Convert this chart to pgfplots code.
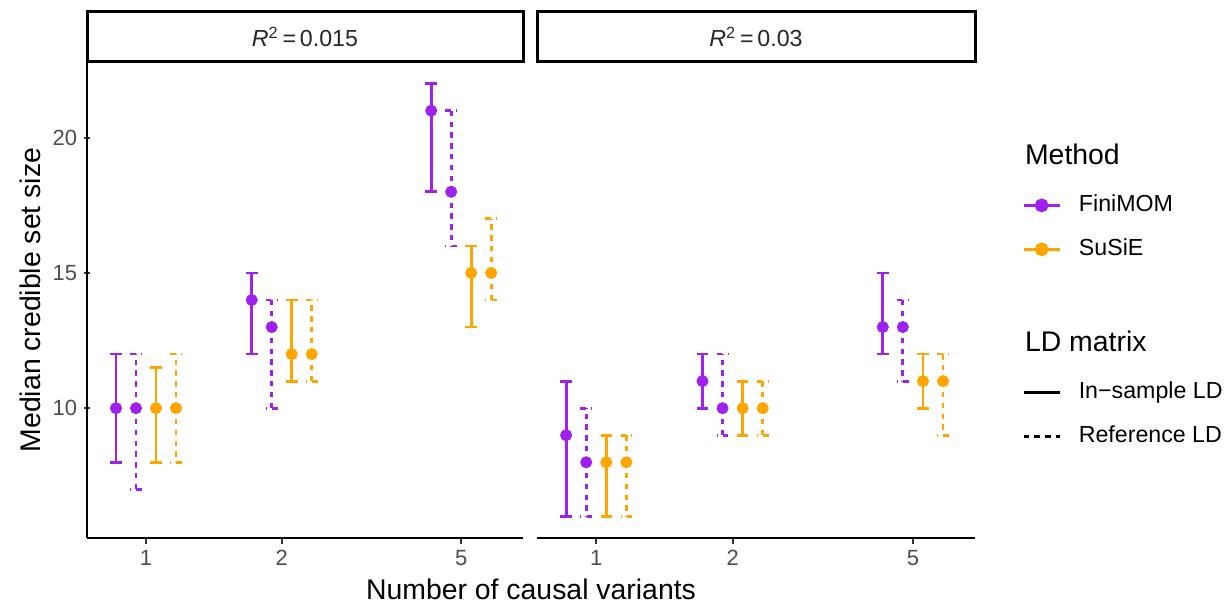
\documentclass[border=0pt]{standalone}
\usepackage{fontspec}
\setmainfont{Liberation Sans}
\usepackage{pgfplots}
\pgfplotsset{compat=1.18}
\definecolor{fin}{HTML}{A020F0}
\definecolor{sus}{HTML}{FFA500}
\definecolor{ticktext}{HTML}{4D4D4D}
\definecolor{tickline}{HTML}{333333}

\pgfplotsset{
  panel/.style={
    scale only axis, height=238pt,
    xmin=-0.1308, xmax=0.836, ymin=5.2, ymax=22.8,
    enlargelimits=false, clip=false,
    xtick={0,0.30103,0.69897}, xticklabels={1,2,5},
    axis x line=bottom,
    tick style={line width=1.1pt, tickline},
    major tick length=2.75pt, tick align=outside,
    ticklabel style={font=\fontsize{11}{13}\selectfont, text=ticktext},
    /pgf/number format/assume math mode=true,
    legend cell align=left,
    legend image code/.code={
      \draw[mark repeat=2, mark phase=2, #1]
        plot coordinates {(0pt,0pt) (9pt,0pt) (18pt,0pt)};},
  },
  ins/.style={forget plot, only marks, color=#1, mark=*, mark size=2.8pt,
    mark options={solid, fill=#1, draw=#1},
    error bars/.cd, y dir=both, y explicit,
    error bar style={line width=1.4pt, solid},
    error mark options={rotate=90, line width=1.4pt, mark size=2.9pt, solid}},
  rfs/.style={forget plot, only marks, color=#1, mark=*, mark size=2.8pt,
    mark options={solid, fill=#1, draw=#1},
    error bars/.cd, y dir=both, y explicit,
    error bar style={line width=1.4pt, dash pattern=on 2.7pt off 2.7pt},
    error mark options={rotate=90, line width=1.4pt, mark size=2.9pt,
                        dash pattern=on 2.7pt off 2.7pt}},
}

\begin{document}
\begin{tikzpicture}
\path (0,0) rectangle (614pt,302.5pt);

% R^2 = 0.015
\begin{axis}[panel, name=L, at={(43.5pt,33.5pt)}, anchor=south west,
  width=218pt, axis y line=left, ytick={10,15,20},
  axis line style={-, line width=1.1pt, black},
  ylabel={Median credible set size},
  ylabel style={at={(axis description cs:-0.131,0.5)}, anchor=center,
                font=\fontsize{14.2}{16}\selectfont},
  legend style={at={(axis description cs:2.1445,0.7227)}, anchor=north west,
    draw=none, fill=none, inner sep=0pt, row sep=11pt, column sep=9pt,
    font=\fontsize{11.6}{13}\selectfont,
    nodes={inner sep=0pt, text height=8.5pt, text depth=2.5pt}},
]
\addplot[ins=fin] table[x=x, y=y, y error plus=ep, y error minus=em] {
x y ep em
-0.0665 10 2 2
0.2345 14 1 2
0.6325 21 1 3
};
\addplot[rfs=fin] table[x=x, y=y, y error plus=ep, y error minus=em] {
x y ep em
-0.0222 10 2 3
0.2788 13 1 3
0.6768 18 3 2
};
\addplot[ins=sus] table[x=x, y=y, y error plus=ep, y error minus=em] {
x y ep em
0.0222 10 1.5 2
0.3232 12 2 1
0.7212 15 1 2
};
\addplot[rfs=sus] table[x=x, y=y, y error plus=ep, y error minus=em] {
x y ep em
0.0665 10 2 2
0.3675 12 2 1
0.7655 15 2 1
};
\addlegendimage{fin, line width=1.3pt, mark=*, mark size=2.8pt, mark options={solid, fill=fin}}
\addlegendentry{FiniMOM}
\addlegendimage{sus, line width=1.3pt, mark=*, mark size=2.8pt, mark options={solid, fill=sus}}
\addlegendentry{SuSiE}
\end{axis}

% R^2 = 0.03
\begin{axis}[panel, name=R, at={(268.5pt,33.5pt)}, anchor=south west,
  width=219pt, axis y line=none, ytick=\empty,
  axis line style={-, line width=1.1pt, black},
  legend style={at={(axis description cs:1.1073,0.3298)}, anchor=north west,
    draw=none, fill=none, inner sep=0pt, row sep=11pt, column sep=9pt,
    font=\fontsize{11.6}{13}\selectfont,
    nodes={inner sep=0pt, text height=8.5pt, text depth=2.5pt}},
]
\addplot[ins=fin] table[x=x, y=y, y error plus=ep, y error minus=em] {
x y ep em
-0.0665 9 2 3
0.2345 11 1 1
0.6325 13 2 1
};
\addplot[rfs=fin] table[x=x, y=y, y error plus=ep, y error minus=em] {
x y ep em
-0.0222 8 2 2
0.2788 10 2 1
0.6768 13 1 2
};
\addplot[ins=sus] table[x=x, y=y, y error plus=ep, y error minus=em] {
x y ep em
0.0222 8 1 2
0.3232 10 1 1
0.7212 11 1 1
};
\addplot[rfs=sus] table[x=x, y=y, y error plus=ep, y error minus=em] {
x y ep em
0.0665 8 1 2
0.3675 10 1 1
0.7655 11 1 2
};
\addlegendimage{black, line width=1.2pt}
\addlegendentry{In−sample LD}
\addlegendimage{black, line width=1.2pt, dash pattern=on 2.7pt off 2.7pt}
\addlegendentry{Reference LD}
\end{axis}

% facet strips
\draw[line width=1.5pt] (43.5pt,271.5pt) rectangle (261.5pt,296.5pt);
\draw[line width=1.5pt] (268.5pt,271.5pt) rectangle (487.5pt,296.5pt);
\node[font=\fontsize{11.6}{13}\selectfont, text=black!85] at (152.5pt,284pt)
  {\textit{R}\textsuperscript{2}\,=\,0.015};
\node[font=\fontsize{11.6}{13}\selectfont, text=black!85] at (378pt,284pt)
  {\textit{R}\textsuperscript{2}\,=\,0.03};

% shared x title and legend titles
\node[anchor=base, font=\fontsize{14.2}{16}\selectfont] at (265.5pt,2.5pt)
  {Number of causal variants};
\node[anchor=base west, font=\fontsize{14.2}{16}\selectfont] at (509pt,220pt)
  {Method};
\node[anchor=base west, font=\fontsize{14.2}{16}\selectfont] at (509pt,126.5pt)
  {LD matrix};
\end{tikzpicture}
\end{document}
